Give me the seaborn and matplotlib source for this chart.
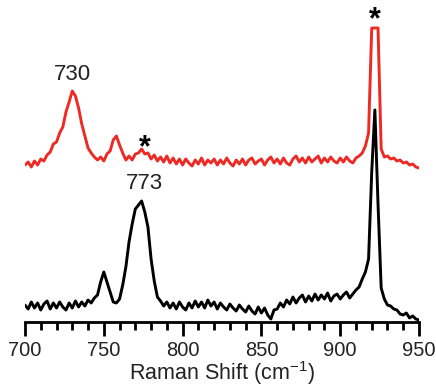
import numpy as np
import pandas as pd
import matplotlib
matplotlib.use("Agg")
import matplotlib.pyplot as plt
import seaborn as sns
from matplotlib.ticker import MultipleLocator

# Raman shift axis (cm^-1), sampled every 2 cm^-1
shift = list(range(700, 951, 2))

# Red spectrum (offset upper trace), arbitrary units
red = [157, 160, 155, 161, 157, 163, 161, 167, 170, 178,   # 700-718
       180, 189, 195, 210, 220, 231, 226, 214, 198, 186,   # 720-738
       174, 169, 165, 162, 165, 161, 168, 171, 182, 186,   # 740-758
       177, 169, 162, 166, 162, 168, 169, 173, 168, 169,   # 760-778
       163, 167, 161, 165, 160, 166, 159, 164, 158, 163,   # 780-798
       157, 163, 159, 156, 162, 158, 164, 157, 162, 159,   # 800-818
       163, 157, 162, 158, 164, 159, 156, 162, 158, 163,   # 820-838
       157, 162, 164, 158, 161, 163, 157, 162, 165, 159,   # 840-858
       163, 158, 164, 159, 157, 163, 166, 160, 164, 159,   # 860-878
       165, 160, 163, 166, 159, 164, 160, 165, 161, 159,   # 880-898
       164, 160, 165, 161, 159, 164, 166, 169, 176, 189,   # 900-918
       294, 294, 294, 173, 165, 166, 163, 164, 161, 162,   # 920-938
       159, 160, 157, 158, 155, 154]                       # 940-950

# Black spectrum (lower trace)
black = [17, 13, 20, 14, 19, 12, 18, 21, 13, 19,            # 700-718
         14, 20, 15, 12, 19, 14, 21, 15, 20, 16,            # 720-738
         22, 19, 24, 27, 40, 50, 40, 30, 20, 19,            # 740-758
         23, 37, 55, 80, 98, 113, 117, 121, 110, 95,        # 760-778
         63, 41, 25, 21, 16, 20, 14, 19, 13, 20,            # 780-798
         15, 12, 19, 14, 21, 15, 20, 14, 22, 16,            # 800-818
         20, 13, 19, 15, 12, 18, 14, 11, 17, 13,            # 820-838
         10, 16, 11, 8, 15, 9, 14, 7, 3, 12,                # 840-858
         13, 19, 15, 22, 18, 25, 19, 24, 27, 20,            # 860-878
         26, 21, 28, 22, 27, 23, 29, 21, 26, 28,            # 880-898
         23, 27, 30, 24, 28, 32, 35, 43, 50, 63,            # 900-918
         150, 212, 118, 34, 23, 17, 16, 13, 12, 8,          # 920-938
         7, 9, 4, 6, 3, 2]                                  # 940-950

peak_labels = ["730", "773"]
peak_label_x = [730, 776]
peak_label_y = [248, 139]
star_x = [776, 922]
star_y = [174, 302]

df = pd.DataFrame({
    "shift": shift * 2,
    "intensity": red + black,
    "trace": ["red"] * len(shift) + ["black"] * len(shift),
})

sns.set_style("white")
plt.rcParams["font.family"] = ["Liberation Sans", "DejaVu Sans"]

fig = plt.figure(figsize=(4.36, 3.86), dpi=100)
ax = fig.add_axes([25 / 436, 64 / 386, 394 / 436, 322 / 386])

sns.lineplot(data=df, x="shift", y="intensity", hue="trace",
             palette={"red": "#ee2a24", "black": "#000000"},
             linewidth=2.1, legend=False, ax=ax)

ax.set_xlim(700, 950)
ax.set_ylim(0, 322)
for s in ["left", "right", "top"]:
    ax.spines[s].set_visible(False)
ax.spines["bottom"].set_linewidth(2.0)
ax.spines["bottom"].set_color("black")
ax.set_yticks([])
ax.set_ylabel("")
ax.xaxis.set_major_locator(MultipleLocator(50))
ax.xaxis.set_minor_locator(MultipleLocator(10))
ax.tick_params(axis="x", which="major", direction="out", length=10, width=2,
               color="black", labelsize=14.5, labelcolor="#222222", pad=4, bottom=True)
ax.tick_params(axis="x", which="minor", direction="out", length=6, width=2,
               color="black", bottom=True)
ax.set_xlabel("Raman Shift (cm$^{\\mathregular{-1}}$)", fontsize=15.5,
              color="#222222", labelpad=-1)

for t, x, y in zip(peak_labels, peak_label_x, peak_label_y):
    ax.text(x, y, t, ha="center", va="center", fontsize=16, color="#222222")
for x, y in zip(star_x, star_y):
    ax.text(x, y, "*", ha="center", va="center", fontsize=22,
            fontweight="bold", color="black")

fig.savefig("out.png", dpi=100)
